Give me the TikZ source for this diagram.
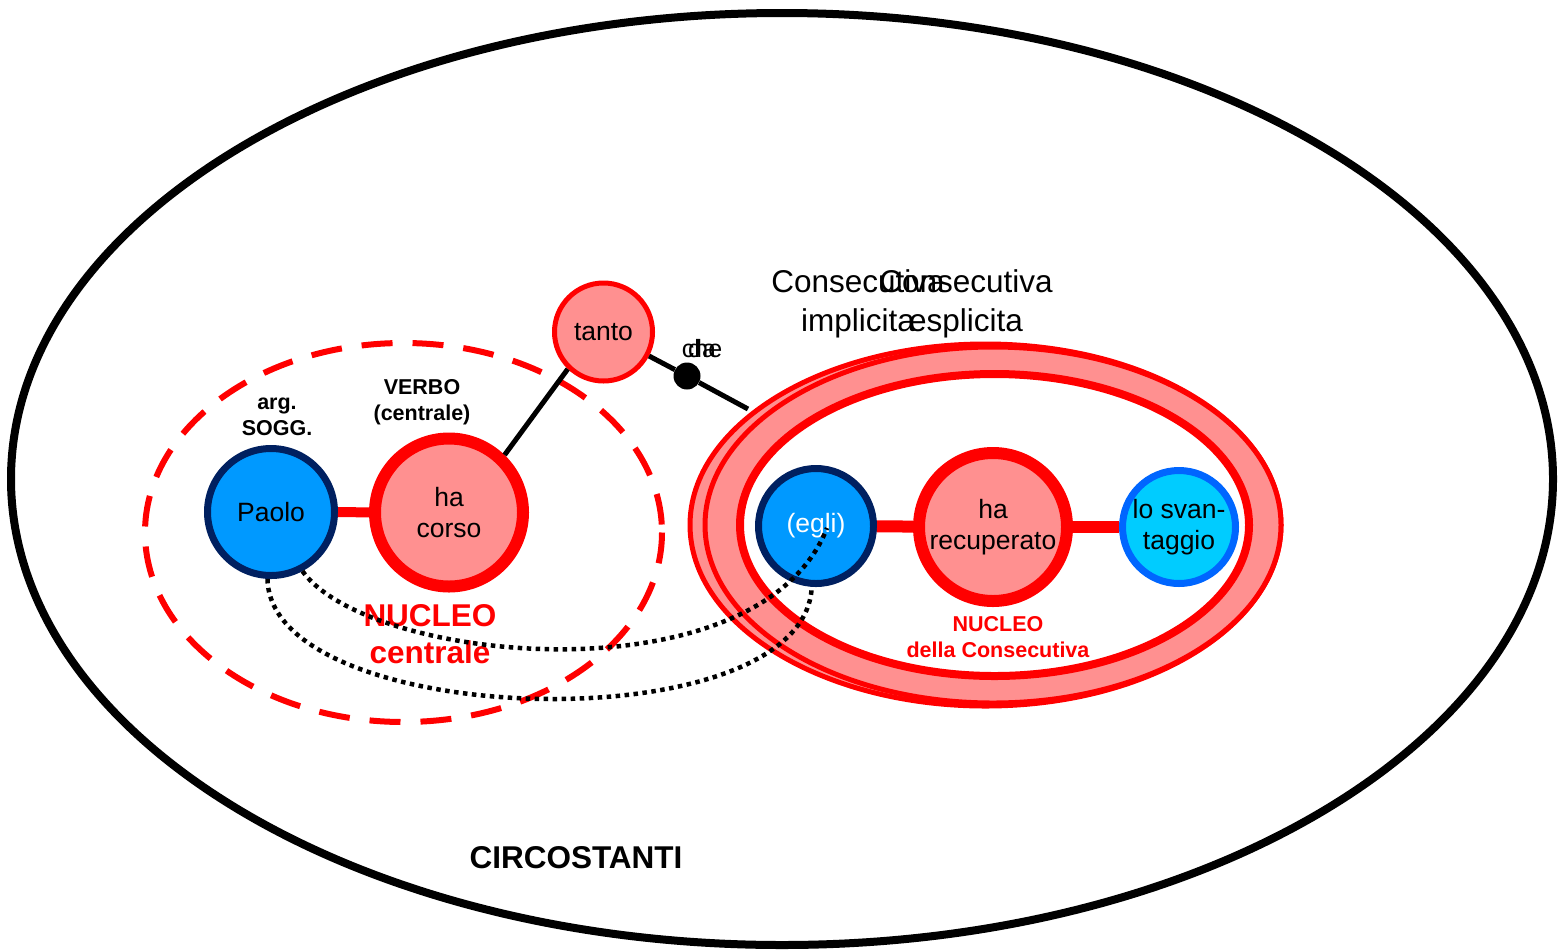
\documentclass[tikz,border=0pt]{standalone}
\usepackage{fontspec}
\setmainfont{Liberation Sans}
\definecolor{pinkF}{HTML}{FF9090}
\definecolor{blueF}{HTML}{0099FF}
\definecolor{navyB}{HTML}{002060}
\definecolor{cyanF}{HTML}{00CCFF}
\definecolor{cyanB}{HTML}{0066FF}
\newcommand{\fsNode}{\fontsize{26.5}{31}\selectfont}
\newcommand{\fsSmall}{\fontsize{21.5}{26}\selectfont}
\newcommand{\fsBig}{\fontsize{31.5}{37}\selectfont}
\newcommand{\fsLab}{\fontsize{31.5}{39}\selectfont}
\newcommand{\fsCirc}{\fontsize{31.5}{38}\selectfont}
\newcommand{\fsTiny}{\fontsize{25}{29}\selectfont}
\begin{document}
\begin{tikzpicture}[x=1pt,y=-1pt,
  bnode/.style={circle, draw=navyB, fill=blueF, line width=7pt, inner sep=0pt, minimum size=121pt, align=center, font=\fsNode},
  rnode/.style={circle, draw=red, fill=pinkF, line width=12pt, inner sep=0pt, minimum size=148pt, align=center, font=\fsNode},
  cnode/.style={circle, draw=cyanB, fill=cyanF, line width=7pt, inner sep=0pt, minimum size=113pt, align=center, font=\fsNode},
  lbl/.style={inner sep=0pt, align=center},
  redlink/.style={draw=red, line width=12pt},
  blacklink/.style={draw=black, line width=5pt},
  dotline/.style={draw=black, line width=4.5pt, dash pattern=on 4.5pt off 4.5pt}
]
\useasboundingbox (0,0) rectangle (1562,951);
% outer ellipse
\draw[line width=8pt] (782,479) ellipse [x radius=771, y radius=466];
% dashed nucleus
\draw[red, line width=6pt, dash pattern=on 31pt off 20pt] (403.5,532.5) ellipse [x radius=258.5, y radius=189.5];
% consecutiva ellipses
\draw[red, fill=pinkF, line width=5pt] (985.5,525) ellipse [x radius=295.5, y radius=181];
\draw[red, fill=pinkF, line width=5pt] (993,525) ellipse [x radius=288, y radius=178];
\draw[red, fill=white, line width=8pt] (994.5,525) ellipse [x radius=254.5, y radius=151];

% nodes
\node[bnode, minimum size=127pt] (paolo) at (271,512) {Paolo};
\node[rnode] (hacorso) at (449,512.5) {ha\\corso};
\node[rnode, line width=5pt, minimum size=98pt] (tanto) at (603.5,332) {tanto};
\node[bnode, minimum size=115pt, text=white] (egli) at (816,526) {(egli)};
\node[rnode] (harec) at (993,527) {ha\\recuperato};
\node[cnode] (svan) at (1179,527) {lo svan-\\taggio};
\node[circle, fill=black, inner sep=0pt, minimum size=27pt] (dot) at (687,376) {};
\coordinate (cend) at (748,409);
\coordinate (eglend) at (827,528);

% connectors
\draw[redlink, line width=10pt] (paolo) -- (hacorso);
\draw[redlink] (egli) -- (harec);
\draw[redlink] (harec) -- (svan);
\draw[blacklink] (hacorso.46) -- (tanto.226);
\draw[blacklink] (tanto) -- (dot) -- (cend);

% labels
\node[lbl, font=\fsSmall\bfseries] (argl) at (277,417) {arg.\\SOGG.};
\node[lbl, font=\fsSmall\bfseries] (verbol) at (422,402) {VERBO\\(centrale)};
\node[lbl, font=\fsBig\bfseries, text=red] (nucl1) at (430,634) {NUCLEO\\centrale};
\node[lbl, font=\fsSmall\bfseries, text=red] (nucl2) at (998,637) {NUCLEO\\della Consecutiva};
\node[lbl, font=\fsCirc\bfseries] (circ) at (576,858) {CIRCOSTANTI};
\node[lbl, font=\fsLab] (cimp) at (858,304) {Consecutiva\\implicita};
\node[lbl, font=\fsLab] (cesp) at (966,304) {Consecutiva\\esplicita};
\node[lbl, font=\fsTiny] (da) at (702,349) {da};
\node[lbl, font=\fsTiny] (che) at (702,349) {che};

% dotted coreference lines
\draw[dotline] (paolo.-62) .. controls (370,665) and (760,700) .. (eglend);
\draw[dotline] (paolo.-93) .. controls (270,730) and (805,745) .. (egli.-94);
\end{tikzpicture}
\end{document}
